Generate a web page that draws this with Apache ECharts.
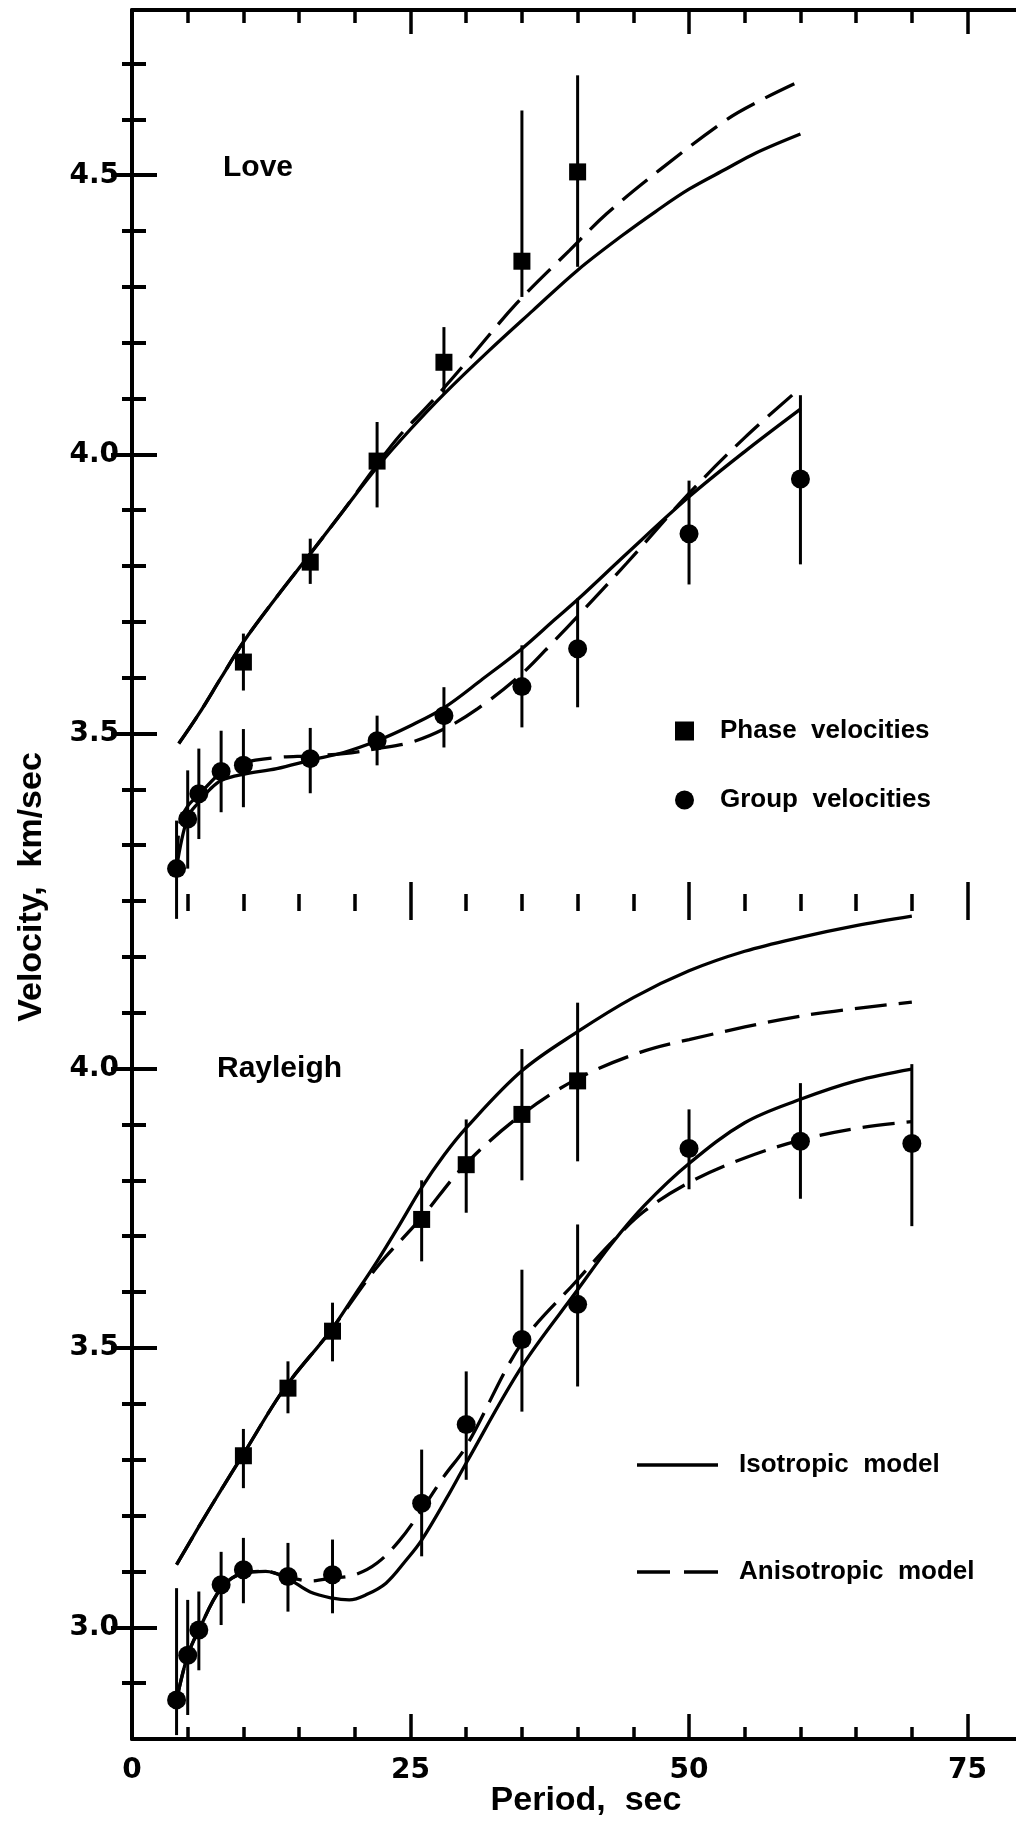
<!DOCTYPE html>
<html><head><meta charset="utf-8">
<script src="https://cdn.jsdelivr.net/npm/echarts@6/dist/echarts.min.js"></script>
<style>html,body{margin:0;padding:0;background:#fff;} #c{width:1016px;height:1822px;}</style>
</head><body><div id="c"></div>
<script>
// ---------- DATA ----------
// Love waves, observed phase velocities (squares) with error bars
const lovePhaseT  = [10, 16, 22, 28, 35, 40];
const lovePhaseV  = [3.628, 3.807, 3.988, 4.165, 4.346, 4.506];
const lovePhaseLo = [3.577, 3.768, 3.905, 4.109, 4.282, 4.336];
const lovePhaseHi = [3.679, 3.849, 4.058, 4.228, 4.616, 4.679];
// Love waves, observed group velocities (circles)
const loveGroupT  = [4, 5, 6, 8, 10, 16, 22, 28, 35, 40, 50, 60];
const loveGroupV  = [3.258, 3.347, 3.392, 3.432, 3.443, 3.455, 3.487, 3.532, 3.584, 3.652, 3.858, 3.956];
const loveGroupLo = [3.168, 3.258, 3.311, 3.359, 3.368, 3.393, 3.443, 3.475, 3.511, 3.547, 3.767, 3.803];
const loveGroupHi = [3.344, 3.434, 3.473, 3.505, 3.508, 3.510, 3.532, 3.583, 3.658, 3.742, 3.953, 4.106];
// Love model curves
const loveIsoPhaseT = [4.2, 6, 8, 10, 13, 16, 19, 22, 25, 28, 32, 36, 40, 44, 47, 50, 53.4, 56, 60];
const loveIsoPhaseV = [3.482, 3.535, 3.600, 3.664, 3.745, 3.822, 3.900, 3.977, 4.045, 4.108, 4.185, 4.258, 4.330, 4.392, 4.435, 4.475, 4.512, 4.540, 4.574];
const loveAniPhaseT = [4.2, 6, 8, 10, 13, 16, 19, 22, 24, 26.7, 30, 34.5, 39.3, 42.6, 47.4, 53.4, 56.5, 60];
const loveAniPhaseV = [3.482, 3.535, 3.600, 3.664, 3.745, 3.822, 3.900, 3.982, 4.033, 4.090, 4.165, 4.270, 4.366, 4.431, 4.510, 4.600, 4.635, 4.669];
const loveIsoGroupT = [4, 5, 6, 7, 8, 10, 13, 16, 19, 22, 25, 28, 31.5, 35, 38, 40, 44.4, 50, 55, 60];
const loveIsoGroupV = [3.260, 3.350, 3.377, 3.400, 3.416, 3.427, 3.437, 3.452, 3.466, 3.487, 3.514, 3.546, 3.598, 3.652, 3.705, 3.740, 3.822, 3.924, 4.005, 4.081];
const loveAniGroupT = [4, 4.3, 5, 6, 8, 10, 13, 16, 19, 22, 25, 28, 31, 35, 38, 40, 44.4, 50, 55, 60];
const loveAniGroupV = [3.260, 3.340, 3.370, 3.390, 3.430, 3.448, 3.457, 3.460, 3.464, 3.473, 3.484, 3.508, 3.544, 3.607, 3.668, 3.710, 3.805, 3.930, 4.030, 4.119];

// Rayleigh waves, observed phase velocities
const rayPhaseT  = [10, 14, 18, 26, 30, 35, 40];
const rayPhaseV  = [3.307, 3.428, 3.530, 3.730, 3.828, 3.918, 3.978];
const rayPhaseLo = [3.249, 3.383, 3.476, 3.655, 3.742, 3.800, 3.834];
const rayPhaseHi = [3.355, 3.476, 3.581, 3.800, 3.909, 4.035, 4.118];
// Rayleigh waves, observed group velocities
const rayGroupT  = [4, 5, 6, 8, 10, 14, 18, 26, 30, 35, 40, 50, 60, 70];
const rayGroupV  = [2.870, 2.950, 2.995, 3.076, 3.103, 3.091, 3.094, 3.222, 3.363, 3.515, 3.578, 3.857, 3.870, 3.866];
const rayGroupLo = [2.807, 2.843, 2.923, 3.004, 3.043, 3.028, 3.025, 3.127, 3.264, 3.386, 3.431, 3.784, 3.767, 3.718];
const rayGroupHi = [3.070, 3.049, 3.064, 3.135, 3.160, 3.151, 3.157, 3.318, 3.458, 3.640, 3.721, 3.927, 3.974, 4.008];
// Rayleigh model curves
const rayIsoPhaseT = [4, 6, 8, 10, 13.7, 17.8, 20, 22, 24, 26, 28, 30, 35, 40, 45, 50, 55, 60, 65, 70];
const rayIsoPhaseV = [3.112, 3.180, 3.246, 3.310, 3.428, 3.530, 3.595, 3.655, 3.720, 3.787, 3.845, 3.894, 3.996, 4.066, 4.127, 4.175, 4.210, 4.235, 4.256, 4.273];
const rayAniPhaseT = [4, 6, 8, 10, 13.7, 17.8, 22, 25.85, 29.9, 35, 40, 45.6, 50, 60, 70];
const rayAniPhaseV = [3.112, 3.180, 3.246, 3.310, 3.428, 3.530, 3.645, 3.730, 3.828, 3.918, 3.982, 4.029, 4.052, 4.094, 4.119];
const rayIsoGroupT = [4, 5, 6, 8, 10, 12, 14, 16, 18, 19.5, 21, 22.8, 24.6, 26, 28.5, 30, 35, 40, 43, 46, 50, 55, 60, 65, 70];
const rayIsoGroupV = [2.870, 2.950, 2.995, 3.070, 3.097, 3.100, 3.087, 3.063, 3.052, 3.049, 3.058, 3.079, 3.120, 3.156, 3.240, 3.294, 3.467, 3.604, 3.685, 3.755, 3.830, 3.903, 3.945, 3.978, 3.999];
const rayAniGroupT = [4, 5, 6, 8, 10, 12, 14, 16, 18, 20, 22, 24, 26, 28, 30, 35, 40, 43, 46, 50, 55, 60, 65, 70];
const rayAniGroupV = [2.870, 2.950, 2.995, 3.070, 3.097, 3.100, 3.090, 3.083, 3.088, 3.094, 3.115, 3.155, 3.210, 3.270, 3.324, 3.509, 3.622, 3.688, 3.745, 3.796, 3.840, 3.872, 3.893, 3.905];

// Tick values / labels
const xMinorTicks = [5, 10, 15, 20, 30, 35, 40, 45, 55, 60, 65, 70];
const xMajorTicks = [25, 50, 75];
const xTickLabels = [0, 25, 50, 75];
const upperMajor = [3.5, 4.0, 4.5];
const upperMinor = [3.3, 3.4, 3.6, 3.7, 3.8, 3.9, 4.1, 4.2, 4.3, 4.4, 4.6, 4.7];
const lowerMajor = [3.0, 3.5, 4.0];
const lowerMinor = [2.9, 3.1, 3.2, 3.3, 3.4, 3.6, 3.7, 3.8, 3.9, 4.1, 4.2, 4.3];

// ---------- BUILD ----------
const X_MAX = 79.35;
const BLACK = '#000';
const NUM_FONT = '"DejaVu Sans", sans-serif';
const TXT_FONT = '"Liberation Sans", Arial, sans-serif';
const pairs = (a, b) => a.map((v, i) => [v, b[i]]);
const triples = (a, b, c) => a.map((v, i) => [v, b[i], c[i]]);

function xAx(grid, pos, ticks, len, extra) {
  return Object.assign({
    type: 'value', gridIndex: grid, position: pos, min: 0, max: X_MAX,
    axisLine: { show: false }, splitLine: { show: false },
    axisTick: { show: true, inside: true, length: len, customValues: ticks, lineStyle: { color: BLACK, width: 3.5 } },
    axisLabel: { show: false }
  }, extra || {});
}
function yAx(grid, pos, min, max, ticks, len, extra) {
  return Object.assign({
    type: 'value', gridIndex: grid, position: pos, min: min, max: max,
    axisLine: { show: false }, splitLine: { show: false },
    axisTick: { show: true, inside: true, length: len, customValues: ticks, lineStyle: { color: BLACK, width: 4 } },
    axisLabel: { show: false }
  }, extra || {});
}
const lineAx = { show: true, lineStyle: { color: BLACK, width: 4 } };
const numLabel = (vals, margin, decimals) => ({
  show: true, customValues: vals, margin: margin, color: BLACK,
  fontFamily: NUM_FONT, fontWeight: 'bold', fontSize: 28,
  formatter: v => Number(v).toFixed(decimals)
});

const xAxes = [
  // grid 0 (Love)
  xAx(0, 'top', xMinorTicks, 13, { axisLine: lineAx }),
  xAx(0, 'top', xMajorTicks, 24),
  xAx(0, 'bottom', xMinorTicks, 7),
  xAx(0, 'bottom', xMajorTicks, 19),
  // grid 1 (Rayleigh)
  xAx(1, 'top', xMinorTicks, 10),
  xAx(1, 'top', xMajorTicks, 19),
  xAx(1, 'bottom', xMinorTicks, 12, { axisLine: lineAx }),
  xAx(1, 'bottom', xMajorTicks, 25, { axisLabel: numLabel(xTickLabels, 18, 0) })
];
const yAxes = [
  yAx(0, 'left', 3.2, 4.796, upperMajor, 25, { axisLine: lineAx, axisLabel: numLabel(upperMajor, 13, 1) }),
  yAx(0, 'left', 3.2, 4.796, upperMinor, 14),
  yAx(0, 'right', 3.2, 4.796, upperMajor, 21),
  yAx(0, 'right', 3.2, 4.796, upperMinor, 10),
  yAx(1, 'left', 2.8, 4.3, lowerMajor, 25, { axisLine: lineAx, axisLabel: numLabel(lowerMajor, 13, 1) }),
  yAx(1, 'left', 2.8, 4.3, lowerMinor, 14),
  yAx(1, 'right', 2.8, 4.3, lowerMajor, 21),
  yAx(1, 'right', 2.8, 4.3, lowerMinor, 10)
];

const DASH = [32, 12];
function curve(name, T, V, xi, yi, dashed) {
  return {
    type: 'line', name: name, xAxisIndex: xi, yAxisIndex: yi, data: pairs(T, V),
    symbol: 'none', showSymbol: false, symbolKeepAspect: true, smooth: 0.35, clip: false, silent: true, z: 2,
    lineStyle: { color: BLACK, width: 3.3, type: dashed ? DASH : 'solid' },
    itemStyle: { color: BLACK }
  };
}
function errBars(T, lo, hi, xi, yi) {
  return {
    type: 'custom', xAxisIndex: xi, yAxisIndex: yi, clip: false, silent: true, z: 3,
    data: triples(T, lo, hi), encode: { x: 0, y: [1, 2] },
    renderItem: (params, api) => {
      const a = api.coord([api.value(0), api.value(1)]);
      const b = api.coord([api.value(0), api.value(2)]);
      return { type: 'line', shape: { x1: a[0], y1: a[1], x2: b[0], y2: b[1] }, style: { stroke: BLACK, lineWidth: 3 } };
    }
  };
}
function marks(name, T, V, xi, yi, sym, size) {
  return {
    type: 'scatter', name: name, xAxisIndex: xi, yAxisIndex: yi, data: pairs(T, V),
    symbol: sym, symbolSize: size, itemStyle: { color: BLACK, opacity: 1 }, z: 4, silent: true, clip: false
  };
}

const series = [
  // Love (grid 0 -> xAxis 0, yAxis 0)
  curve('Isotropic model', loveIsoPhaseT, loveIsoPhaseV, 0, 0, false),
  curve('Anisotropic model', loveAniPhaseT, loveAniPhaseV, 0, 0, true),
  curve('Isotropic model', loveIsoGroupT, loveIsoGroupV, 0, 0, false),
  curve('Anisotropic model', loveAniGroupT, loveAniGroupV, 0, 0, true),
  errBars(lovePhaseT, lovePhaseLo, lovePhaseHi, 0, 0),
  errBars(loveGroupT, loveGroupLo, loveGroupHi, 0, 0),
  marks('Phase velocities', lovePhaseT, lovePhaseV, 0, 0, 'rect', 17),
  marks('Group velocities', loveGroupT, loveGroupV, 0, 0, 'circle', 19),
  // Rayleigh (grid 1 -> xAxis 6, yAxis 4)
  curve('Isotropic model', rayIsoPhaseT, rayIsoPhaseV, 6, 4, false),
  curve('Anisotropic model', rayAniPhaseT, rayAniPhaseV, 6, 4, true),
  curve('Isotropic model', rayIsoGroupT, rayIsoGroupV, 6, 4, false),
  curve('Anisotropic model', rayAniGroupT, rayAniGroupV, 6, 4, true),
  errBars(rayPhaseT, rayPhaseLo, rayPhaseHi, 6, 4),
  errBars(rayGroupT, rayGroupLo, rayGroupHi, 6, 4),
  marks('Phase velocities', rayPhaseT, rayPhaseV, 6, 4, 'rect', 17),
  marks('Group velocities', rayGroupT, rayGroupV, 6, 4, 'circle', 19)
];

const legendText = (pad) => ({
  color: BLACK, fontFamily: TXT_FONT, fontWeight: 'bold', fontSize: 26,
  rich: { t: { padding: [0, 0, 0, pad], lineHeight: 30, color: BLACK, fontFamily: TXT_FONT, fontWeight: 'bold', fontSize: 26 } }
});

const option = {
  animation: false,
  backgroundColor: '#fff',
  grid: [
    { left: 132, right: 0, top: 10, height: 891 },
    { left: 132, right: 0, top: 901, height: 838 }
  ],
  xAxis: xAxes,
  yAxis: yAxes,
  legend: [
    {
      data: ['Phase velocities', 'Group velocities'], orient: 'vertical', left: 670, top: 713,
      itemWidth: 19, itemHeight: 19, itemGap: 43, selectedMode: false,
      formatter: n => '{t|' + n.replace(' ', '  ') + '}', textStyle: legendText(21)
    },
    {
      data: [
        { name: 'Isotropic model', icon: 'path://M0 0H81V3.4H0Z' },
        { name: 'Anisotropic model', icon: 'path://M0 0H33V3.4H0ZM47 0H81V3.4H47Z' }
      ],
      orient: 'vertical', left: 632, top: 1447,
      itemWidth: 81, itemHeight: 3.4, itemGap: 81, selectedMode: false,
      itemStyle: { color: BLACK, borderWidth: 0 },
      formatter: n => '{t|' + n.replace(' ', '  ') + '}', textStyle: legendText(16)
    }
  ],
  graphic: [
    { type: 'text', x: 223, y: 168, style: { text: 'Love', fill: BLACK, font: 'bold 30px ' + TXT_FONT, align: 'left', verticalAlign: 'middle', textAlign: 'left', textVerticalAlign: 'middle' } },
    { type: 'text', x: 217, y: 1069, style: { text: 'Rayleigh', fill: BLACK, font: 'bold 30px ' + TXT_FONT, align: 'left', verticalAlign: 'middle', textAlign: 'left', textVerticalAlign: 'middle' } },
    { type: 'text', x: 32, y: 887, rotation: Math.PI / 2, style: { text: 'Velocity,  km/sec', fill: BLACK, font: 'bold 34px ' + TXT_FONT, align: 'center', verticalAlign: 'middle', textAlign: 'center', textVerticalAlign: 'middle' } },
    { type: 'text', x: 586, y: 1801, style: { text: 'Period,  sec', fill: BLACK, font: 'bold 34px ' + TXT_FONT, align: 'center', verticalAlign: 'middle', textAlign: 'center', textVerticalAlign: 'middle' } }
  ],
  series: series
};

const chart = echarts.init(document.getElementById('c'), null, { renderer: 'canvas' });
chart.setOption(option);
</script></body></html>
